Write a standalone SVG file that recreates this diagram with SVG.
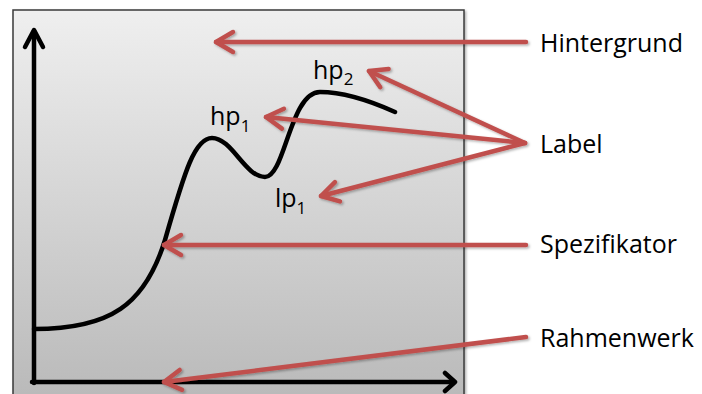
<svg xmlns="http://www.w3.org/2000/svg" width="702" height="394" viewBox="0 0 702 394">
  <defs>
    <linearGradient id="bg" x1="0" y1="10" x2="0" y2="394" gradientUnits="userSpaceOnUse">
      <stop offset="0" stop-color="#efefef"/>
      <stop offset="1" stop-color="#bababa"/>
    </linearGradient>
    <filter id="shadow" x="-10%" y="-10%" width="120%" height="120%">
      <feDropShadow dx="1.5" dy="1.5" stdDeviation="1" flood-color="#000" flood-opacity="0.3"/>
    </filter>
    <marker id="redHead" markerUnits="userSpaceOnUse" orient="auto" viewBox="-20 -12 24 24" refX="0" refY="0" markerWidth="24" markerHeight="24" overflow="visible">
      <path d="M-17,-10 L0,0 L-17,10" fill="none" stroke="#c0504d" stroke-width="4.5" stroke-linecap="round" stroke-linejoin="round"/>
    </marker>
  </defs>
  <style>
    .axis { fill: none; stroke: #000; stroke-width: 4.5; stroke-linecap: round; stroke-linejoin: round; }
    .curve { fill: none; stroke: #000; stroke-width: 4.5; stroke-linecap: round; }
    .lbl { font-family: "Open Sans", "Noto Sans", sans-serif; font-size: 25px; fill: #000; }
    .sub { font-size: 17px; }
    .conn { fill: none; stroke: #c0504d; stroke-width: 4.5; stroke-linecap: round; marker-end: url(#redHead); }
  </style>

  <!-- background frame -->
  <g id="frame">
    <rect x="13" y="10" width="451" height="410" fill="url(#bg)" stroke="#3a3a3a" stroke-width="1.5" filter="url(#shadow)"/>
  </g>

  <!-- axes -->
  <g id="axes">
    <path class="axis" d="M34,383 L34,31"/>
    <path class="axis" d="M25,47 L34,30 L43,47"/>
    <path class="axis" d="M32,382 L454,382"/>
    <path class="axis" d="M445,373 L455,382 L445,391"/>
  </g>

  <!-- measured curve -->
  <g id="curve">
    <path class="curve" d="M34,329 C110,329 145,305 165,240 C185,170 195,138 212,138 C232,138 245,177 265,177 C285,177 290,92 320,92 C345,92 375,103 395,112"/>
  </g>

  <!-- peak labels -->
  <g id="label-hp1"><text class="lbl" x="210" y="125">hp<tspan class="sub" dy="7">1</tspan></text></g>
  <g id="label-hp2"><text class="lbl" x="313" y="79">hp<tspan class="sub" dy="6">2</tspan></text></g>
  <g id="label-lp1"><text class="lbl" x="275" y="207">lp<tspan class="sub" dy="7">1</tspan></text></g>

  <!-- legend -->
  <g id="legend-hintergrund"><text class="lbl" x="540" y="52">Hintergrund</text></g>
  <g id="legend-label"><text class="lbl" x="540" y="153">Label</text></g>
  <g id="legend-spezifikator"><text class="lbl" x="540" y="253">Spezifikator</text></g>
  <g id="legend-rahmenwerk"><text class="lbl" x="540" y="347">Rahmenwerk</text></g>

  <!-- pointer arrows -->
  <g id="connectors" filter="url(#shadow)">
    <path class="conn" d="M526,42 L216,42"/>
    <path class="conn" d="M525,143 L369,71"/>
    <path class="conn" d="M525,143 L266,117"/>
    <path class="conn" d="M525,143 L321,196"/>
    <path class="conn" d="M526,245 L164,245"/>
    <path class="conn" d="M526,337 L164,382"/>
  </g>
</svg>
